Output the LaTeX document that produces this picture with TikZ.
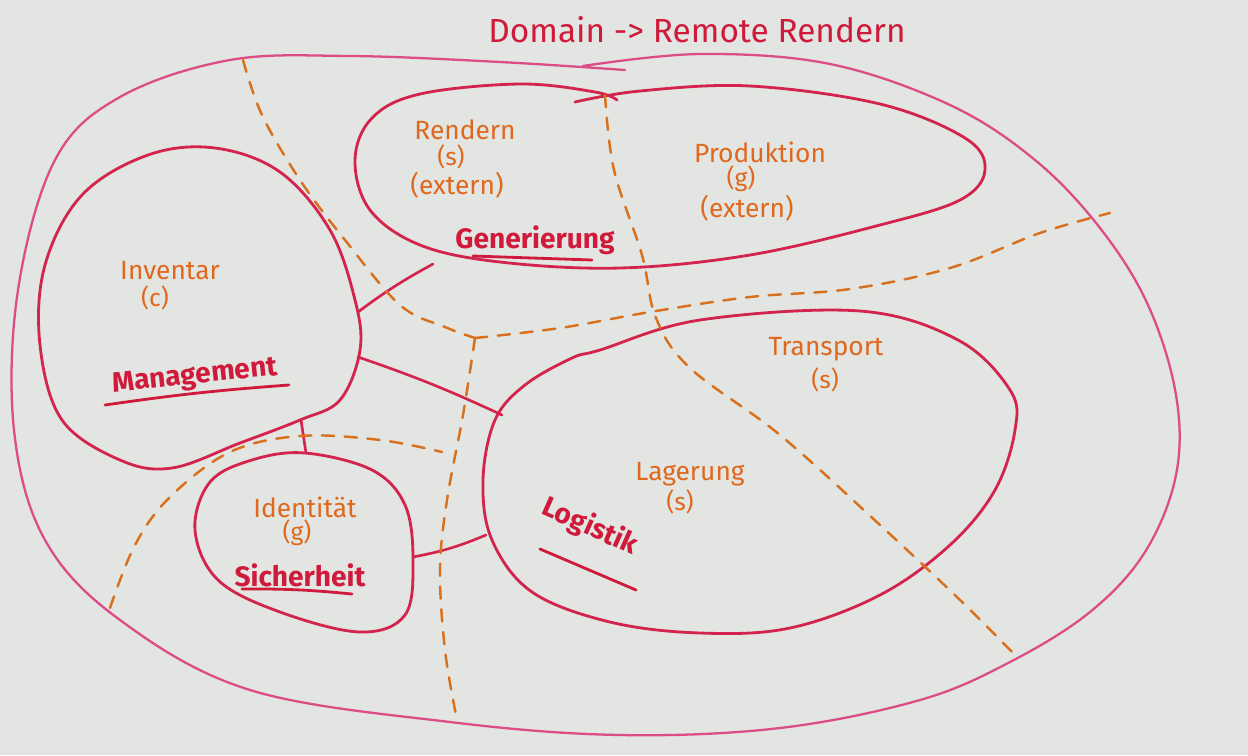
\documentclass[tikz,border=0pt]{standalone}
\usepackage{fontspec}
\setmainfont{Fira Sans}
\definecolor{bg}{HTML}{E2E5E1}
\definecolor{blobred}{HTML}{D3244E}
\definecolor{looppink}{HTML}{DC4C86}
\definecolor{txtred}{HTML}{D01A3C}
\definecolor{txtorange}{HTML}{E0681E}
\definecolor{dashorange}{HTML}{D8701E}
\tikzset{
  blob/.style={draw=blobred, line width=1.6pt, line join=round, line cap=round},
  outerloop/.style={draw=looppink, line width=1.3pt, line cap=round},
  link/.style={draw=blobred, line width=1.5pt, line cap=round},
  bound/.style={draw=dashorange, line width=1.4pt, dash pattern=on 7pt off 6pt, line cap=round},
  uline/.style={draw=txtred, line width=1.6pt, line cap=round},
  ctxlabel/.style={text=txtorange, font=\fontsize{15}{17}\selectfont, inner sep=0pt},
  sublabel/.style={text=txtorange, font=\fontsize{14}{16}\selectfont, inner sep=0pt},
  domlabel/.style={text=txtred, font=\fontsize{16}{18}\selectfont\bfseries, inner sep=0pt},
  ttllabel/.style={text=txtred, font=\fontsize{19}{22}\selectfont, inner sep=0pt}
}
\begin{document}
\begin{tikzpicture}[x=0.02cm, y=-0.02cm]
\fill[bg] (0,0) rectangle (1248,755);
\useasboundingbox (0,0) rectangle (1248,755);

% title
\node[ttllabel] (title) at (697,30) {Domain -> Remote Rendern};

% outer loop
\draw[outerloop] plot[smooth, tension=0.6] coordinates {(625,70) (500,62) (350,56) (230,60) (120,97) (55,160) (18,290) (14,430) (45,540) (120,620) (250,690) (450,722) (620,735) (780,728) (920,700) (1010,662) (1090,612) (1145,552) (1176,475) (1176,395) (1148,305) (1100,228) (1035,160) (950,105) (830,64) (700,54) (583,66)};

% Rendern / Produktion blob
\draw[blob] plot[smooth, tension=0.6] coordinates {(575,102) (640,91) (750,86) (880,104) (965,138) (985,170) (960,200) (880,225) (750,255) (620,268) (500,262) (420,245) (370,210) (355,160) (372,118) (420,94) (520,84) (595,92) (617,100)};

% Inventar blob
\draw[blob] plot[smooth cycle, tension=0.6] coordinates {(215,148) (280,172) (330,230) (355,300) (360,350) (340,400) (300,420) (240,443) (172,468) (120,460) (62,420) (40,345) (45,265) (82,195) (148,155)};

% Identitaet blob
\draw[blob] plot[smooth cycle, tension=0.6] coordinates {(305,453) (372,470) (405,505) (413,560) (405,615) (360,632) (280,612) (218,580) (195,530) (210,482) (252,460)};

% Lagerung blob
\draw[blob] plot[smooth cycle, tension=0.6] coordinates {(600,350) (700,320) (860,311) (958,340) (1010,390) (1015,430) (995,490) (950,545) (880,595) (790,628) (700,633) (610,622) (532,592) (492,540) (483,480) (495,420) (525,385) (572,358)};

% anchor coordinates on the blobs
\coordinate (invA) at (358,312);
\coordinate (renA) at (433,264);
\coordinate (invB) at (358,357);
\coordinate (lagA) at (502,415);
\coordinate (invC) at (301,420);
\coordinate (ideA) at (306,453);
\coordinate (ideB) at (413,557);
\coordinate (lagB) at (486,535);

% solid connectors
\draw[link] (invA) to[bend left=4] (renA);
\draw[link] (invB) to[bend left=3] (lagA);
\draw[link] (invC) -- (ideA);
\draw[link] (ideB) to[bend right=6] (lagB);

% dashed boundaries
\draw[bound] plot[smooth, tension=0.6] coordinates {(243,60) (262,115) (300,180) (345,240) (400,305) (445,327) (475,338)};
\draw[bound] plot[smooth, tension=0.6] coordinates {(475,338) (560,328) (650,312) (750,297) (850,289) (950,268) (1040,233) (1110,213)};
\draw[bound] plot[smooth, tension=0.6] coordinates {(475,338) (463,415) (447,500) (440,570) (445,650) (456,715)};
\draw[bound] plot[smooth, tension=0.6] coordinates {(605,95) (614,170) (642,255) (656,318) (690,368) (780,435) (880,525) (960,600) (1015,655)};
\draw[bound] plot[smooth, tension=0.6] coordinates {(110,608) (135,545) (170,497) (230,452) (300,436) (380,440) (442,452)};

% labels
\node[ctxlabel] (rendern) at (465,130) {Rendern};
\node[sublabel] (renS) at (451,157) {(s)};
\node[ctxlabel] (renExt) at (457,185) {(extern)};
\node[domlabel] (gen) at (535,240) {Generierung};
\draw[uline] (473,256) -- (592,260);

\node[ctxlabel] (prod) at (760,152) {Produktion};
\node[sublabel] (prodG) at (741,179) {(g)};
\node[ctxlabel] (prodExt) at (747,208) {(extern)};

\node[ctxlabel] (inv) at (170,271) {Inventar};
\node[sublabel] (invSub) at (155,298) {(c)};
\node[domlabel, rotate=6] (mgmt) at (195,377) {Management};
\draw[uline] (105,405) to[bend left=2] (289,385);

\node[ctxlabel] (ident) at (305,507) {Identität};
\node[sublabel] (identG) at (297,533) {(g)};
\node[domlabel] (sich) at (300,575) {Sicherheit};
\draw[uline] (242,589) to[bend left=3] (352,594);

\node[ctxlabel] (lager) at (690,474) {Lagerung};
\node[sublabel] (lagerS) at (680,502) {(s)};
\node[domlabel, rotate=-24] (logi) at (590,527) {Logistik};
\draw[uline] (540,549) -- (636,590);

\node[ctxlabel] (trans) at (826,349) {Transport};
\node[sublabel] (transS) at (825,380) {(s)};
\end{tikzpicture}
\end{document}
